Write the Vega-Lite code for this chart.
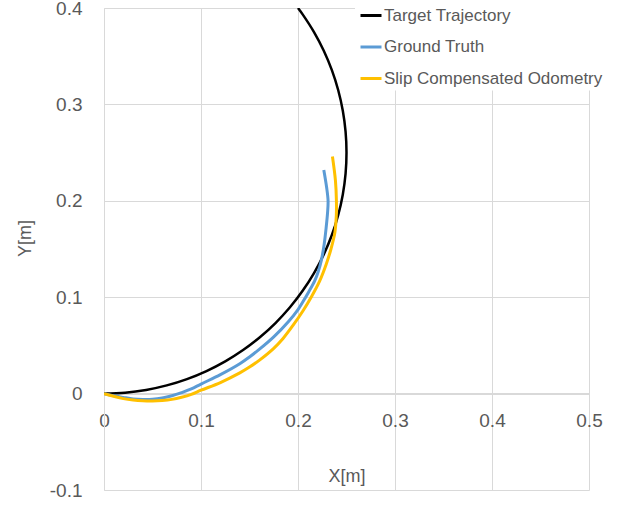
{
  "$schema": "https://vega.github.io/schema/vega-lite/v6.json",
  "width": 485,
  "height": 482,
  "autosize": {"type": "none"},
  "padding": {"left": 104, "top": 8, "right": 33, "bottom": 16},
  "background": "white",
  "config": {
    "view": {"stroke": null},
    "font": "Liberation Sans",
    "axis": {"gridColor": "#d9d9d9", "gridWidth": 1, "domainColor": "#d9d9d9", "ticks": false, "labelColor": "#595959", "titleColor": "#595959", "labelFont": "Liberation Sans", "titleFont": "Liberation Sans", "labelFontSize": 19, "titleFontSize": 18, "titleFontWeight": "normal", "labelFlush": false}
  },
  "data": {"values": [
    {"s": "Target Trajectory", "x": 0, "y": 0},
    {"s": "Target Trajectory", "x": 0.02179, "y": 0.00095},
    {"s": "Target Trajectory", "x": 0.04341, "y": 0.0038},
    {"s": "Target Trajectory", "x": 0.0647, "y": 0.00852},
    {"s": "Target Trajectory", "x": 0.08551, "y": 0.01508},
    {"s": "Target Trajectory", "x": 0.10565, "y": 0.02342},
    {"s": "Target Trajectory", "x": 0.125, "y": 0.03349},
    {"s": "Target Trajectory", "x": 0.14339, "y": 0.04521},
    {"s": "Target Trajectory", "x": 0.1607, "y": 0.05849},
    {"s": "Target Trajectory", "x": 0.17678, "y": 0.07322},
    {"s": "Target Trajectory", "x": 0.19151, "y": 0.0893},
    {"s": "Target Trajectory", "x": 0.20479, "y": 0.10661},
    {"s": "Target Trajectory", "x": 0.21651, "y": 0.125},
    {"s": "Target Trajectory", "x": 0.22658, "y": 0.14435},
    {"s": "Target Trajectory", "x": 0.23492, "y": 0.1645},
    {"s": "Target Trajectory", "x": 0.24148, "y": 0.1853},
    {"s": "Target Trajectory", "x": 0.2462, "y": 0.20659},
    {"s": "Target Trajectory", "x": 0.24905, "y": 0.22821},
    {"s": "Target Trajectory", "x": 0.25, "y": 0.25},
    {"s": "Target Trajectory", "x": 0.24905, "y": 0.27179},
    {"s": "Target Trajectory", "x": 0.2462, "y": 0.29341},
    {"s": "Target Trajectory", "x": 0.24148, "y": 0.3147},
    {"s": "Target Trajectory", "x": 0.23492, "y": 0.33551},
    {"s": "Target Trajectory", "x": 0.22658, "y": 0.35565},
    {"s": "Target Trajectory", "x": 0.21651, "y": 0.375},
    {"s": "Target Trajectory", "x": 0.20479, "y": 0.3934},
    {"s": "Target Trajectory", "x": 0.2, "y": 0.4},
    {"s": "Ground Truth", "x": 0, "y": 0},
    {"s": "Ground Truth", "x": 0.01, "y": -0.0023},
    {"s": "Ground Truth", "x": 0.02, "y": -0.004},
    {"s": "Ground Truth", "x": 0.03, "y": -0.0055},
    {"s": "Ground Truth", "x": 0.04, "y": -0.006},
    {"s": "Ground Truth", "x": 0.05, "y": -0.0058},
    {"s": "Ground Truth", "x": 0.06, "y": -0.0045},
    {"s": "Ground Truth", "x": 0.07, "y": -0.0022},
    {"s": "Ground Truth", "x": 0.08, "y": 0.001},
    {"s": "Ground Truth", "x": 0.09, "y": 0.0048},
    {"s": "Ground Truth", "x": 0.1, "y": 0.0099},
    {"s": "Ground Truth", "x": 0.12, "y": 0.0197},
    {"s": "Ground Truth", "x": 0.14, "y": 0.031},
    {"s": "Ground Truth", "x": 0.15, "y": 0.038},
    {"s": "Ground Truth", "x": 0.16, "y": 0.0458},
    {"s": "Ground Truth", "x": 0.175, "y": 0.0588},
    {"s": "Ground Truth", "x": 0.19, "y": 0.0745},
    {"s": "Ground Truth", "x": 0.2, "y": 0.0872},
    {"s": "Ground Truth", "x": 0.2052, "y": 0.0955},
    {"s": "Ground Truth", "x": 0.211, "y": 0.1055},
    {"s": "Ground Truth", "x": 0.2172, "y": 0.117},
    {"s": "Ground Truth", "x": 0.221, "y": 0.127},
    {"s": "Ground Truth", "x": 0.224, "y": 0.138},
    {"s": "Ground Truth", "x": 0.227, "y": 0.155},
    {"s": "Ground Truth", "x": 0.229, "y": 0.172},
    {"s": "Ground Truth", "x": 0.2305, "y": 0.188},
    {"s": "Ground Truth", "x": 0.231, "y": 0.2},
    {"s": "Ground Truth", "x": 0.2295, "y": 0.214},
    {"s": "Ground Truth", "x": 0.2266, "y": 0.232},
    {"s": "Slip Compensated Odometry", "x": 0, "y": 0},
    {"s": "Slip Compensated Odometry", "x": 0.01, "y": -0.0028},
    {"s": "Slip Compensated Odometry", "x": 0.02, "y": -0.0052},
    {"s": "Slip Compensated Odometry", "x": 0.03, "y": -0.0067},
    {"s": "Slip Compensated Odometry", "x": 0.04, "y": -0.0075},
    {"s": "Slip Compensated Odometry", "x": 0.05, "y": -0.0077},
    {"s": "Slip Compensated Odometry", "x": 0.06, "y": -0.0072},
    {"s": "Slip Compensated Odometry", "x": 0.07, "y": -0.006},
    {"s": "Slip Compensated Odometry", "x": 0.08, "y": -0.0038},
    {"s": "Slip Compensated Odometry", "x": 0.09, "y": -0.0008},
    {"s": "Slip Compensated Odometry", "x": 0.1, "y": 0.0035},
    {"s": "Slip Compensated Odometry", "x": 0.12, "y": 0.0115},
    {"s": "Slip Compensated Odometry", "x": 0.14, "y": 0.0215},
    {"s": "Slip Compensated Odometry", "x": 0.15, "y": 0.0275},
    {"s": "Slip Compensated Odometry", "x": 0.16, "y": 0.0345},
    {"s": "Slip Compensated Odometry", "x": 0.175, "y": 0.047},
    {"s": "Slip Compensated Odometry", "x": 0.1846, "y": 0.0572},
    {"s": "Slip Compensated Odometry", "x": 0.195, "y": 0.071},
    {"s": "Slip Compensated Odometry", "x": 0.2052, "y": 0.086},
    {"s": "Slip Compensated Odometry", "x": 0.214, "y": 0.1008},
    {"s": "Slip Compensated Odometry", "x": 0.2224, "y": 0.117},
    {"s": "Slip Compensated Odometry", "x": 0.229, "y": 0.134},
    {"s": "Slip Compensated Odometry", "x": 0.234, "y": 0.15},
    {"s": "Slip Compensated Odometry", "x": 0.238, "y": 0.167},
    {"s": "Slip Compensated Odometry", "x": 0.2395, "y": 0.185},
    {"s": "Slip Compensated Odometry", "x": 0.2396, "y": 0.2},
    {"s": "Slip Compensated Odometry", "x": 0.2386, "y": 0.221},
    {"s": "Slip Compensated Odometry", "x": 0.2355, "y": 0.246}
  ]},
  "encoding": {
    "x": {"field": "x", "type": "quantitative", "scale": {"domain": [0, 0.5], "nice": false, "zero": false},
      "axis": {"values": [0, 0.1, 0.2, 0.3, 0.4, 0.5], "format": "~g", "offset": -97, "labelPadding": 18, "title": "X[m]", "titleY": 83, "titleBaseline": "middle", "grid": true}},
    "y": {"field": "y", "type": "quantitative", "scale": {"domain": [-0.1, 0.4], "nice": false, "zero": false},
      "axis": {"values": [-0.1, 0, 0.1, 0.2, 0.3, 0.4], "labelExpr": "replace(format(datum.value, '~g'), '−', '-')", "labelPadding": 22, "title": "Y[m]", "titleX": -79, "titleY": 230, "titleAngle": -90, "titleAlign": "center", "titleBaseline": "middle", "grid": true}},
    "color": {"field": "s", "type": "nominal",
      "scale": {"domain": ["Target Trajectory", "Ground Truth", "Slip Compensated Odometry"], "range": ["#000000", "#5B9BD5", "#FFC000"]},
      "legend": {"title": null, "orient": "none", "legendX": 251, "legendY": -8.5, "padding": 4, "fillColor": "white", "symbolType": "stroke", "symbolSize": 441, "symbolStrokeWidth": 3, "labelOffset": 1, "labelFont": "Liberation Sans", "labelFontSize": 17, "labelLimit": 0, "labelColor": "#595959", "rowPadding": 11.5}},
    "order": {"value": null}
  },
  "layer": [
    {"transform": [{"filter": "datum.s === 'Target Trajectory'"}], "mark": {"type": "line", "strokeWidth": 2.5, "clip": true, "interpolate": "catmull-rom"}},
    {"transform": [{"filter": "datum.s === 'Ground Truth'"}], "mark": {"type": "line", "strokeWidth": 3, "clip": true, "interpolate": "catmull-rom"}},
    {"transform": [{"filter": "datum.s === 'Slip Compensated Odometry'"}], "mark": {"type": "line", "strokeWidth": 3, "clip": true, "interpolate": "catmull-rom"}}
  ]
}
